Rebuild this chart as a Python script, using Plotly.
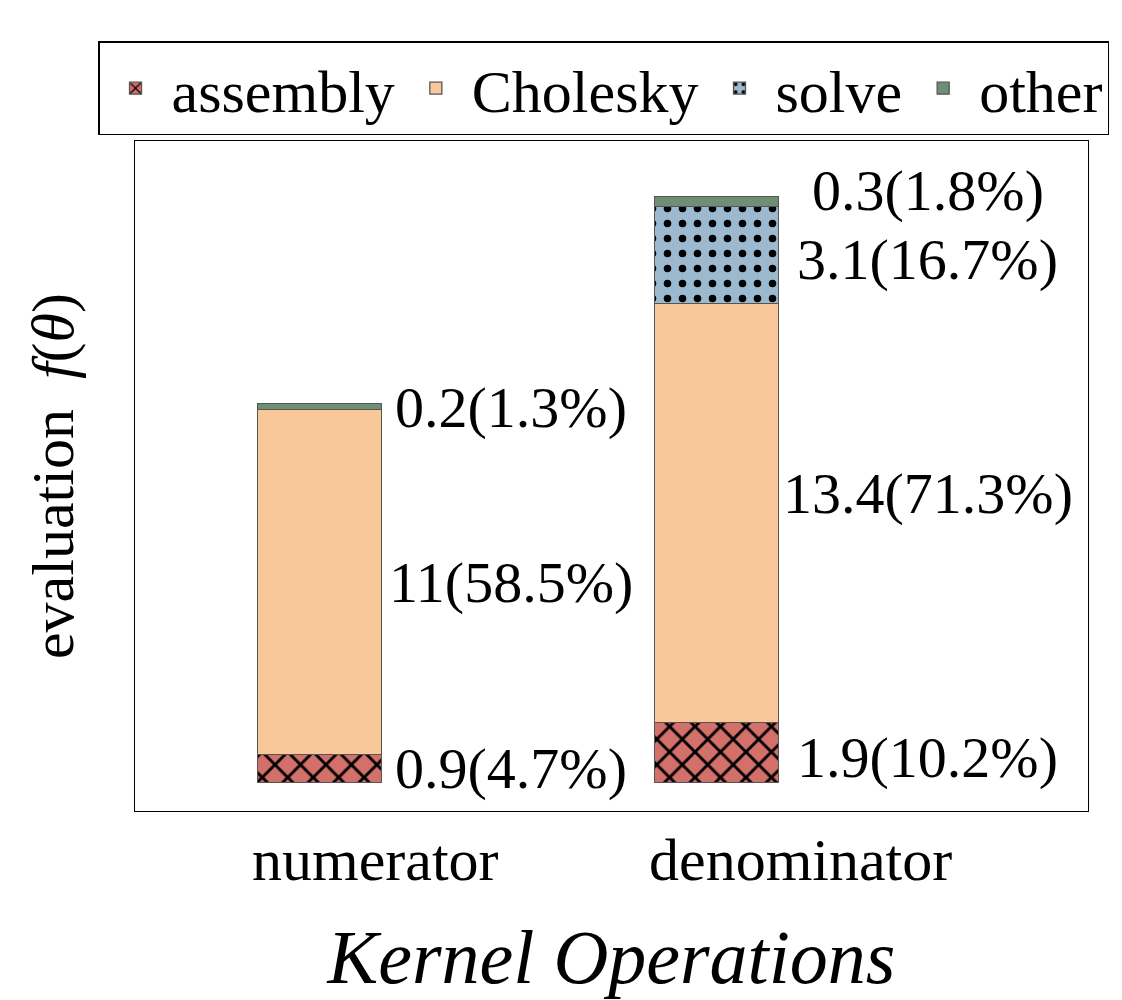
import plotly.graph_objects as go

# data
categories = ["numerator", "denominator"]
components = ["assembly", "Cholesky", "solve", "other"]
assembly = [0.9, 1.9]
cholesky = [11, 13.4]
solve = [0, 3.1]
other = [0.2, 0.3]
labels = {
    "assembly": ["0.9(4.7%)", "1.9(10.2%)"],
    "Cholesky": ["11(58.5%)", "13.4(71.3%)"],
    "solve": [None, "3.1(16.7%)"],
    "other": ["0.2(1.3%)", "0.3(1.8%)"],
}

values = {"assembly": assembly, "Cholesky": cholesky, "solve": solve, "other": other}
colors = {"assembly": "#d4706a", "Cholesky": "#f9c89a", "solve": "#9bbad0", "other": "#6f8f74"}
patterns = {"assembly": "x", "Cholesky": "", "solve": ".", "other": ""}
# small nudges so labels sit like in the original
label_nudge = {"assembly": [0, -4], "Cholesky": [0, 20], "solve": [0, -4], "other": [0, 12]}
label_dx = [0.48, 0.53]

serif = "Liberation Serif"
bar_w = 0.312
fig = go.Figure()

for name in components:
    pat = dict(shape=patterns[name], fgcolor="black", bgcolor=colors[name], fgopacity=1)
    if name == "assembly":
        pat.update(size=18, solidity=0.3)
    elif name == "solve":
        pat.update(size=15, solidity=0.2)
    fig.add_trace(go.Bar(
        x=[0, 1], y=values[name], name=name, width=bar_w,
        marker=dict(color=colors[name], line=dict(color="#555555", width=1.3), pattern=pat),
    ))

# annotations centred to the right of each segment
base = [0.0, 0.0]
for name in components:
    for i in range(len(categories)):
        v = values[name][i]
        txt = labels[name][i]
        if txt:
            fig.add_annotation(x=i + label_dx[i], y=base[i] + v / 2, text=txt, showarrow=False,
                               xanchor="center", yanchor="middle", yshift=label_nudge[name][i],
                               font=dict(family=serif, size=58, color="black"))
        base[i] += v

# category names start at the bar's left edge (as in the original)
for i, cat in enumerate(categories):
    fig.add_annotation(x=i - bar_w / 2, y=0, yref="paper", text=cat, showarrow=False,
                       xanchor="left", yanchor="top", xshift=-8, yshift=-14,
                       font=dict(family=serif, size=60, color="black"))

fig.update_layout(
    barmode="stack",
    width=1122, height=1000,
    margin=dict(l=127, r=42, t=133, b=197),
    paper_bgcolor="white", plot_bgcolor="white",
    font=dict(family=serif, color="black"),
    bargap=0,
    legend=dict(orientation="h", x=-0.0388, y=1.149, xanchor="left", yanchor="top",
                bordercolor="black", borderwidth=1.5, bgcolor="white",
                font=dict(family=serif, size=60), itemwidth=62,
                traceorder="normal"),
    xaxis=dict(tickvals=[0, 1], showticklabels=False, range=[-0.466, 1.934],
               showline=True, mirror=True, linecolor="black", linewidth=1.3,
               showgrid=False, zeroline=False, ticks="",
               title=dict(text="<i>Kernel Operations</i>", standoff=118,
                          font=dict(family=serif, size=76))),
    yaxis=dict(range=[-0.9, 20.5], showticklabels=False, ticks="",
               showline=True, mirror=True, linecolor="black", linewidth=1.3,
               showgrid=False, zeroline=False,
               title=dict(text="evaluation  <i>f</i>(<i>θ</i>)", standoff=40,
                          font=dict(family=serif, size=60))),
)

fig.write_html("out.html")
